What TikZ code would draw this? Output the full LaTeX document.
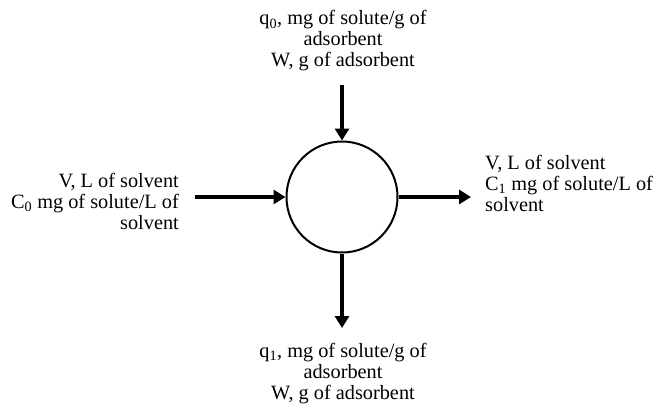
\documentclass[tikz,border=0pt]{standalone}
\usepackage{fontspec}
\setmainfont{Liberation Serif}
\usetikzlibrary{arrows.meta}
\begin{document}
\begin{tikzpicture}[x=1pt,y=1pt,
  lbl/.style={inner sep=0pt,font=\fontsize{20.3}{21}\selectfont},
  flow/.style={line width=4pt,-{Triangle[length=12pt,width=14pt]}},
  vessel/.style={circle,draw,line width=2pt,minimum size=111pt,inner sep=0pt}]
\useasboundingbox (0,0) rectangle (658,-405);
\node[vessel] (c) at (342,-197) {};
\coordinate (tin) at (342,-85);
\coordinate (lin) at (195,-197);
\coordinate (rout) at (471,-197);
\coordinate (bout) at (342,-328);
\draw[flow] (tin) -- (c.north);
\draw[flow] (lin) -- (c.west);
\draw[flow] (c.east) -- (rout);
\draw[flow] (c.south) -- (bout);
\node[lbl,align=center,anchor=north] (top) at (343,-10.5)
  {q\textsubscript{0}, mg of solute/g of\\adsorbent\\W, g of adsorbent};
\node[lbl,align=right,anchor=north east] (left) at (179,-173.3)
  {V, L of solvent\\C\textsubscript{0} mg of solute/L of\\solvent};
\node[lbl,align=left,anchor=north west] (right) at (485,-154.6)
  {V, L of solvent\\C\textsubscript{1} mg of solute/L of\\solvent};
\node[lbl,align=center,anchor=north] (bot) at (343,-343)
  {q\textsubscript{1}, mg of solute/g of\\adsorbent\\W, g of adsorbent};
\end{tikzpicture}
\end{document}
